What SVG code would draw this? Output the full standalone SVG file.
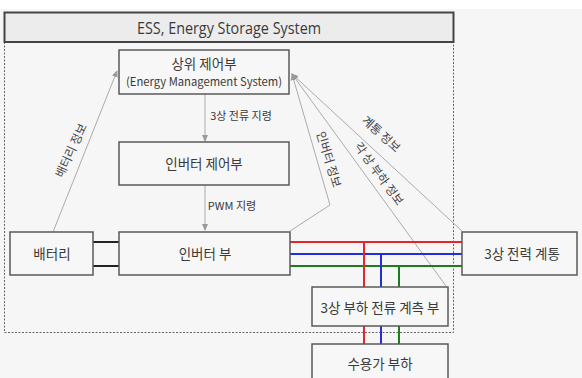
<svg xmlns="http://www.w3.org/2000/svg" width="582" height="378" viewBox="0 0 582 378">
<defs>
<style>
.box{fill:#f7f7f7;stroke:#5a5a5a;stroke-width:1.5}
.t{font-family:"Noto Sans CJK KR","Liberation Sans",sans-serif;fill:#3a3a3a;text-anchor:middle;dominant-baseline:central}
.n{font-size:13.5px}
.s{font-size:11px}
.d{font-size:12px;fill:#444}
.g{fill:none;stroke:#ababab;stroke-width:1}
.k{stroke:#222;stroke-width:2}
.r{stroke:#e8232a;stroke-width:2;fill:none}
.b{stroke:#1f2ee0;stroke-width:2;fill:none}
.gr{stroke:#1b7d1b;stroke-width:2;fill:none}
</style>
<marker id="ah" viewBox="0 0 8 8" refX="7" refY="4" markerWidth="7" markerHeight="7" orient="auto" markerUnits="userSpaceOnUse">
<path d="M0,0.5 L8,4 L0,7.5 Z" fill="#9a9a9a"/>
</marker>
</defs>
<rect width="582" height="378" fill="#f6f6f6"/>
<rect width="582" height="9" fill="#ffffff"/>

<g id="ess">
<rect x="4.5" y="42" width="449" height="290.5" fill="none" stroke="#666" stroke-width="1" stroke-dasharray="2,1.5"/>
<rect x="4.5" y="12.5" width="449" height="29.5" fill="#ececec" stroke="#444" stroke-width="2"/>
<text class="t" x="229" y="28" style="font-family:'Open Sans','Liberation Sans',sans-serif;font-size:15.5px" textLength="184" lengthAdjust="spacingAndGlyphs">ESS, Energy Storage System</text>
</g>

<g id="connectors">
<line class="g" x1="205" y1="94" x2="205" y2="141" marker-end="url(#ah)"/>
<line class="g" x1="205" y1="185" x2="205" y2="230" marker-end="url(#ah)"/>
<line class="g" x1="53" y1="232" x2="117" y2="71" marker-end="url(#ah)"/>
<polyline class="g" points="290,231 330,205 292,74" marker-end="url(#ah)"/>
<line class="g" x1="446" y1="286" x2="292" y2="74" marker-end="url(#ah)"/>
<line class="g" x1="462" y1="231" x2="292" y2="74" marker-end="url(#ah)"/>
<line class="k" x1="93" y1="242" x2="119" y2="242"/>
<line class="k" x1="93" y1="266" x2="119" y2="266"/>
<line class="r" x1="290" y1="242" x2="462" y2="242"/>
<line class="b" x1="290" y1="254" x2="462" y2="254"/>
<line class="gr" x1="290" y1="266" x2="462" y2="266"/>
<line class="r" x1="364" y1="242" x2="364" y2="287"/>
<line class="b" x1="381" y1="254" x2="381" y2="287"/>
<line class="gr" x1="399" y1="266" x2="399" y2="287"/>
<line class="r" x1="364" y1="326" x2="364" y2="344"/>
<line class="b" x1="381" y1="326" x2="381" y2="344"/>
<line class="gr" x1="399" y1="326" x2="399" y2="344"/>
<text class="t s" x="241" y="115">3상 전류 지령</text>
<text class="t s" x="232" y="205">PWM 지령</text>
<text class="t d" transform="translate(70,150) rotate(-65)">배터리 정보</text>
<text class="t d" transform="translate(330,159) rotate(73)">인버터 정보</text>
<text class="t d" transform="translate(380,173) rotate(54)">각 상 부하 정보</text>
<text class="t d" transform="translate(382,133) rotate(42)">계통 정보</text>
</g>

<g id="ems">
<rect class="box" x="119" y="50" width="170" height="44"/>
<text class="t" x="204" y="63" style="font-size:13.5px">상위 제어부</text>
<text class="t" x="204" y="81" style="font-size:11.5px" textLength="156" lengthAdjust="spacingAndGlyphs">(Energy Management System)</text>
</g>

<g id="inverter-control">
<rect class="box" x="119" y="142" width="170" height="43"/>
<text class="t n" x="204" y="163">인버터 제어부</text>
</g>

<g id="battery">
<rect class="box" x="10" y="232" width="83" height="43"/>
<text class="t n" x="52" y="253">배터리</text>
</g>

<g id="inverter">
<rect class="box" x="119" y="232" width="171" height="43"/>
<text class="t n" x="205" y="253">인버터 부</text>
</g>

<g id="grid">
<rect class="box" x="462" y="232" width="115" height="43"/>
<text class="t n" x="522" y="253">3상 전력 계통</text>
</g>

<g id="load-measure">
<rect class="box" x="312" y="287" width="136" height="39"/>
<text class="t n" x="380" y="307">3상 부하 전류 계측 부</text>
</g>

<g id="load">
<rect class="box" x="312" y="344" width="136" height="40"/>
<text class="t n" x="380" y="363">수용가 부하</text>
</g>
</svg>
